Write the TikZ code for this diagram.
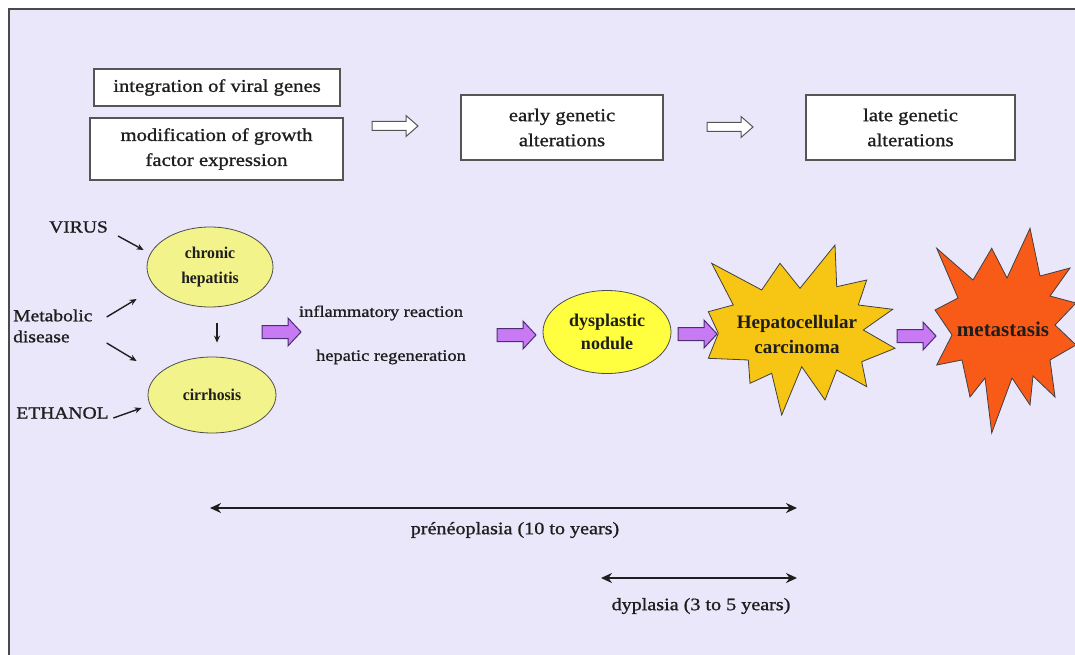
\documentclass[tikz,border=0pt]{standalone}
\usepackage{fontspec}
\setmainfont{Liberation Serif}[FakeStretch=1.15, FakeBold=1.1]
\newfontfamily\narrowserif{Liberation Serif}[FakeStretch=0.95]
\newfontfamily\plainserif{Liberation Serif}
\usetikzlibrary{arrows.meta,calc,shapes.geometric}
\definecolor{bgc}{HTML}{EBE7FA}
\definecolor{framec}{HTML}{4A4A4A}
\definecolor{boxline}{HTML}{555555}
\definecolor{paleyellow}{HTML}{F3F38C}
\definecolor{brightyellow}{HTML}{FFFF40}
\definecolor{goldc}{HTML}{F7C514}
\definecolor{redorange}{HTML}{F85A18}
\definecolor{violetfill}{HTML}{C87AF5}
\definecolor{violetline}{HTML}{4A2E70}
\definecolor{txt}{HTML}{1E1E1E}
\tikzset{
  lbl/.style={font=\fontsize{17}{21}\selectfont, text=txt, inner sep=0pt, align=center},
  midlbl/.style={font=\fontsize{16}{21}\selectfont, text=txt, inner sep=0pt},
  spanlbl/.style={font=\fontsize{17.5}{21}\selectfont, text=txt, inner sep=0pt},
  genebox/.style={draw=boxline, line width=1.2pt, fill=white, inner sep=0pt, align=center,
    text=txt, font=\fontsize{18}{25}\selectfont},
  paleell/.style={ellipse, draw=black!70, line width=0.8pt, fill=paleyellow, inner sep=0pt,
    align=center, text=txt, font=\narrowserif\fontsize{16.5}{25}\selectfont\bfseries},
  brightell/.style={ellipse, draw=black!70, line width=0.8pt, fill=brightyellow, inner sep=0pt,
    align=center, text=txt, font=\plainserif\fontsize{18}{23}\selectfont\bfseries},
  startxt/.style={inner sep=0pt, align=center, text=txt},
  starshape/.style={draw=black!75, line width=0.8pt, line join=miter},
  cause/.style={-{Stealth[length=7pt,width=6pt]}, line width=1.4pt, draw=txt},
  span/.style={{Stealth[length=11pt,width=10pt]}-{Stealth[length=11pt,width=10pt]}, line width=2.2pt, draw=txt},
  pics/violetarrow/.style={code={
    \draw[draw=violetline, fill=violetfill, line width=1pt, line join=miter]
      (0,-6.5) -- (26,-6.5) -- (26,-14) -- (39,0) -- (26,14) -- (26,6.5) -- (0,6.5) -- cycle;}},
  pics/hollowarrow/.style={code={
    \draw[draw=boxline, fill=white, line width=1pt, line join=miter]
      (0,-4.5) -- (34,-4.5) -- (34,-10.5) -- (46,0) -- (34,10.5) -- (34,4.5) -- (0,4.5) -- cycle;}}
}
\begin{document}
\begin{tikzpicture}[x=1pt,y=-1pt]
\useasboundingbox (0,0) rectangle (1075,655);
\fill[white] (0,0) rectangle (1075,655);
\fill[bgc] (9,9) rectangle (1075,655);
\draw[framec, line width=2pt] (9,655) -- (9,9) -- (1075,9);

% top row boxes
\node[genebox, minimum width=246, minimum height=37] (viral) at (217,87.5) {integration of viral genes};
\node[genebox, minimum width=253, minimum height=62] (growth) at (216.5,149) {modification of growth\\factor expression};
\node[genebox, minimum width=202, minimum height=65] (early) at (562,127.5) {early genetic\\alterations};
\node[genebox, minimum width=209, minimum height=65] (late) at (910.5,127.5) {late genetic\\alterations};
\pic (ha1) at (372,126) {hollowarrow};
\pic (ha2) at (707,127) {hollowarrow};

% causes
\node[lbl] (virus) at (78.5,227) {VIRUS};
\node[lbl, align=left, anchor=west] (metab) at (13,326) {Metabolic\\disease};
\node[lbl] (ethanol) at (62.5,413) {ETHANOL};

% ellipses
\node[paleell, minimum width=126, minimum height=80] (chronic) at (210,267) {chronic\\hepatitis};
\node[paleell, minimum width=128, minimum height=76] (cirrhosis) at (212,395) {cirrhosis};
\node[brightell, minimum width=128, minimum height=83] (nodule) at (607,332) {dysplastic\\nodule};

\draw[cause] ($(virus.east)+(10,9)$) -- ($(chronic.west)+(-3,-17)$);
\draw[cause] ($(metab.east)+(14,-9)$) -- ($(chronic.west)+(-10,32)$);
\draw[cause] ($(metab.east)+(14,17)$) -- ($(cirrhosis.west)+(-11,-34)$);
\draw[cause] ($(ethanol.east)+(4.5,5)$) -- ($(cirrhosis.west)+(-6,13)$);
\draw[cause] ($(chronic.south)+(7,16)$) -- ($(cirrhosis.north)+(5,-14)$);

% middle texts
\node[midlbl] (inflam) at (381,313) {inflammatory reaction};
\node[midlbl] (regen) at (391,357) {hepatic regeneration};

% stars
\filldraw[starshape, fill=goldc]
  (711.7,263.3) -- (761.7,290) -- (780,263.3) -- (800,288.3) -- (835,245) -- (836.7,286.7)
  -- (866.7,280) -- (858.3,305) -- (892.7,309.3) -- (863.3,330) -- (895,348.3) -- (861.7,361.7)
  -- (866.7,386.7) -- (836.7,370) -- (825,400) -- (801.7,366.7) -- (781.7,415) -- (771.7,373.3)
  -- (750,383.3) -- (748.3,360) -- (708.3,358.3) -- (718.3,333.3) -- (708.3,311.7) -- (733.3,305) -- cycle;
\node[startxt, font=\plainserif\fontsize{19}{25}\selectfont\bfseries] (hcc) at (797,334) {Hepatocellular\\carcinoma};

\filldraw[starshape, fill=redorange]
  (936.7,248.3) -- (973,280) -- (991.7,248.3) -- (1007,278) -- (1030,228.3) -- (1040,276)
  -- (1070,268) -- (1050,296) -- (1076,303) -- (1055,325) -- (1076,345) -- (1050,360)
  -- (1055,397) -- (1033,376) -- (1030,405) -- (1012,378) -- (991.7,433) -- (985,378)
  -- (970,397) -- (962,360) -- (936.7,365) -- (952,335) -- (935,310) -- (958,298) -- cycle;
\node[startxt, font=\plainserif\fontsize{21}{25}\selectfont\bfseries] (meta) at (1003,329) {metastasis};

% violet arrows
\pic (pa1) at (262,332) {violetarrow};
\pic (pa2) at (497,335) {violetarrow};
\pic (pa3) at (678,334) {violetarrow};
\pic (pa4) at (897,336) {violetarrow};

% time spans
\coordinate (pl) at (210,508);
\coordinate (pr) at (797,508);
\coordinate (dl) at (601,578);
\coordinate (dr) at (797,578);
\draw[span] (pl) -- (pr);
\draw[span] (dl) -- (dr);
\node[spanlbl] (prelbl) at (515,530) {prénéoplasia (10 to years)};
\node[spanlbl] (dyslbl) at (701,606) {dyplasia (3 to 5 years)};
\end{tikzpicture}
\end{document}
